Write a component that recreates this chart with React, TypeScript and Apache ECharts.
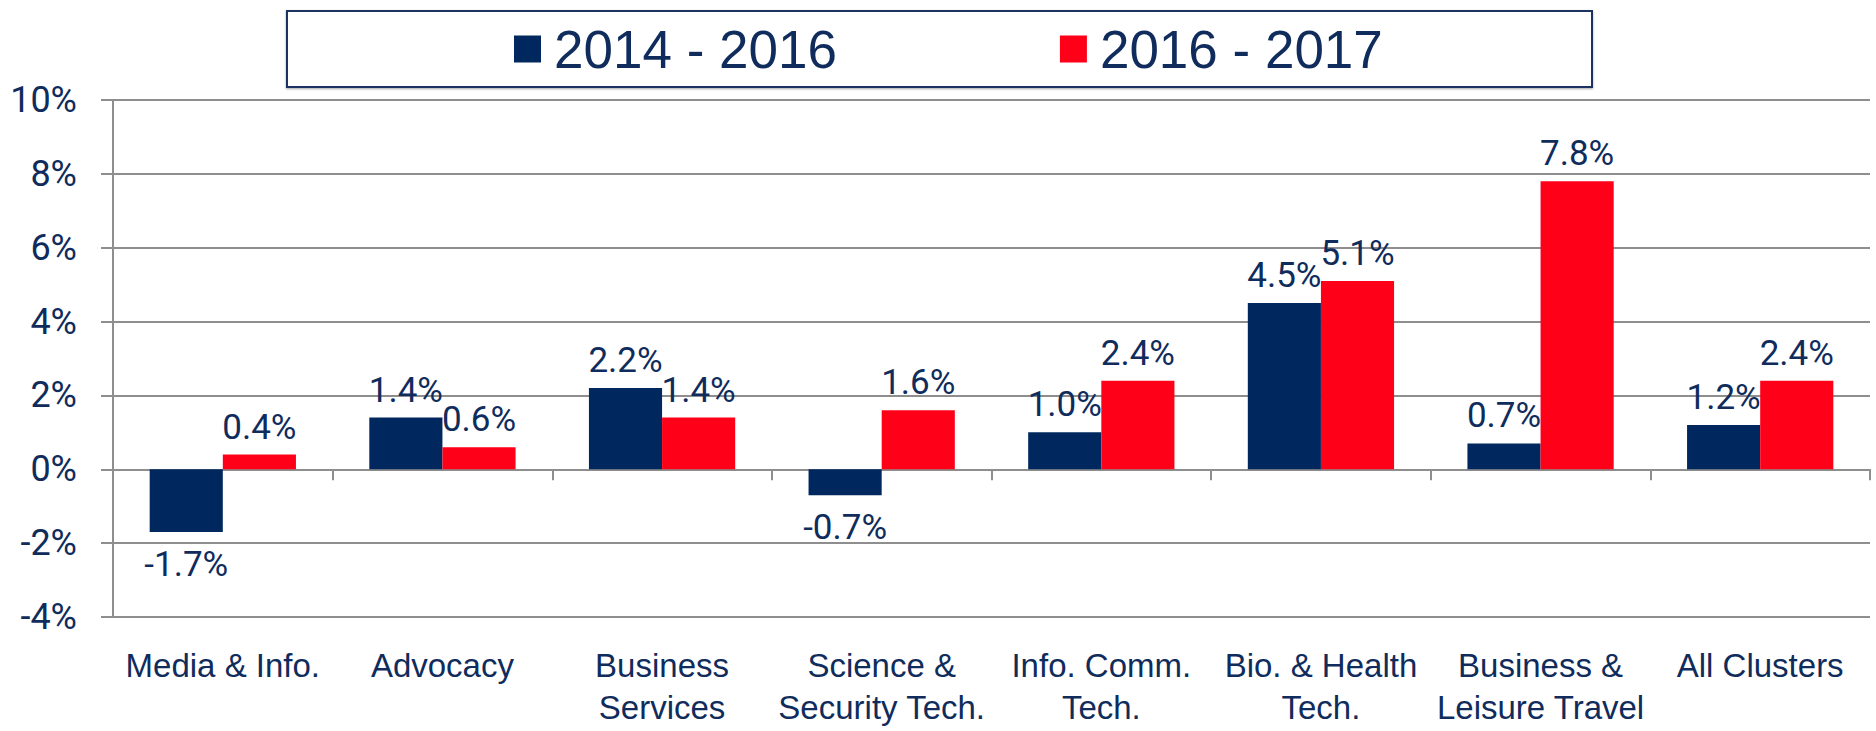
import React, { useEffect, useRef } from "react";
import * as echarts from "echarts";

const categories = [
  "Media & Info.",
  "Advocacy",
  "Business\nServices",
  "Science &\nSecurity Tech.",
  "Info. Comm.\nTech.",
  "Bio. & Health\nTech.",
  "Business &\nLeisure Travel",
  "All Clusters",
];
const seriesNames = ["2014 - 2016", "2016 - 2017"];
const values2014to2016 = [-1.7, 1.4, 2.2, -0.7, 1.0, 4.5, 0.7, 1.2];
const values2016to2017 = [0.4, 0.6, 1.4, 1.6, 2.4, 5.1, 7.8, 2.4];
const yMin = -4;
const yMax = 10;
const yInterval = 2;

const NAVY = "#00285E";
const RED = "#FF0019";
const TEXT = "#0F2C5C";
const GRID = "#8E8E8E";
const ARIAL = "'Liberation Sans', Arial, sans-serif";
const NUMFONT = "Roboto, 'Liberation Sans', sans-serif";

export default function App() {
  const ref = useRef<HTMLDivElement>(null);
  useEffect(() => {
    document.body.style.margin = "0";
    const chart = echarts.init(ref.current!, null, { renderer: "svg" });
    const labelStyle = {
      show: true,
      fontFamily: NUMFONT,
      fontSize: 35,
      color: TEXT,
      formatter: (p: any) => `${Number(p.value).toFixed(1)}%`,
    };
    const mkData = (arr: number[]) =>
      arr.map((v) => ({
        value: v,
        label: v < 0 ? { position: "bottom", distance: 15 } : { position: "top", distance: 10 },
      }));
    chart.setOption({
      animation: false,
      backgroundColor: "#ffffff",
      grid: { left: 113, right: 6, top: 100, bottom: 114, containLabel: false },
      graphic: [
        {
          type: "rect",
          shape: { x: 287, y: 11, width: 1305, height: 76 },
          style: {
            fill: "#ffffff",
            stroke: "#1B3360",
            lineWidth: 2,
            shadowColor: "rgba(0,0,0,0.35)",
            shadowBlur: 2,
            shadowOffsetY: 1,
          },
          z: -1,
        },
      ],
      legend: {
        left: 514,
        top: 22,
        padding: 0,
        itemWidth: 27,
        itemHeight: 27,
        itemGap: 223,
        icon: "rect",
        data: seriesNames,
        textStyle: {
          fontFamily: ARIAL,
          fontSize: 53,
          lineHeight: 54,
          color: TEXT,
          padding: [0, 0, 0, 8],
        },
      },
      xAxis: [
        {
          type: "category",
          data: categories,
          position: "bottom",
          axisLine: { show: false, onZero: false },
          axisTick: { show: false },
          axisLabel: {
            interval: 0,
            margin: 27,
            fontFamily: ARIAL,
            fontSize: 33,
            lineHeight: 42,
            color: TEXT,
          },
        },
        {
          type: "category",
          data: categories,
          position: "bottom",
          axisLine: { show: true, onZero: true, lineStyle: { color: GRID, width: 2 } },
          axisTick: { show: true, length: 11, interval: 0, lineStyle: { color: GRID, width: 2 } },
          axisLabel: { show: false },
        },
      ],
      yAxis: {
        type: "value",
        min: yMin,
        max: yMax,
        interval: yInterval,
        axisLine: { show: true, lineStyle: { color: GRID, width: 2 } },
        axisTick: { show: true, length: 12, lineStyle: { color: GRID, width: 2 } },
        splitLine: { show: true, lineStyle: { color: GRID, width: 2 } },
        axisLabel: {
          margin: 36,
          fontFamily: NUMFONT,
          fontSize: 36,
          color: TEXT,
          formatter: "{value}%",
        },
      },
      series: [
        {
          name: seriesNames[0],
          type: "bar",
          xAxisIndex: 0,
          data: mkData(values2014to2016),
          itemStyle: { color: NAVY },
          barGap: "0%",
          barCategoryGap: "33.4%",
          label: labelStyle,
          z: 3,
        },
        {
          name: seriesNames[1],
          type: "bar",
          xAxisIndex: 0,
          data: mkData(values2016to2017),
          itemStyle: { color: RED },
          barGap: "0%",
          barCategoryGap: "33.4%",
          label: labelStyle,
          z: 3,
        },
      ],
    });
    return () => chart.dispose();
  }, []);
  return <div ref={ref} style={{ width: 1876, height: 731 }} />;
}
